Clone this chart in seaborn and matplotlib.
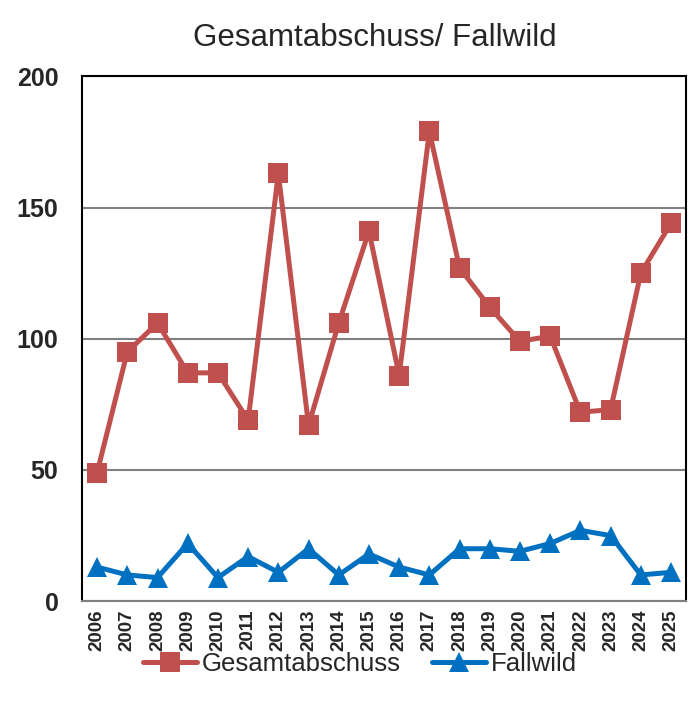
import matplotlib
matplotlib.use("Agg")
import matplotlib.pyplot as plt
import seaborn as sns
import pandas as pd

# data
years = [str(y) for y in range(2006, 2026)]
gesamtabschuss = [49, 95, 106, 87, 87, 69, 163, 67, 106, 141, 86, 179, 127, 112, 99, 101, 72, 73, 125, 144]
fallwild = [13, 10, 9, 22, 9, 17, 11, 20, 10, 18, 13, 10, 20, 20, 19, 22, 27, 25, 10, 11]

sns.set_style("white")
plt.rcParams['font.family'] = ['Liberation Sans', 'DejaVu Sans']

df = pd.DataFrame({
    "Jahr": years * 2,
    "Wert": gesamtabschuss + fallwild,
    "Reihe": ["Gesamtabschuss"] * len(years) + ["Fallwild"] * len(years),
})

fig = plt.figure(figsize=(6.92, 7.2), dpi=100)
ax = fig.add_axes([0.1185, 0.165, 0.873, 0.729])

sns.lineplot(data=df, x="Jahr", y="Wert", hue="Reihe", style="Reihe",
             palette={"Gesamtabschuss": "#C0504D", "Fallwild": "#0070C0"},
             markers={"Gesamtabschuss": "s", "Fallwild": "^"},
             dashes=False, linewidth=3.6, markersize=14, markeredgewidth=0,
             sort=False, ax=ax)

ax.set_xlim(-0.5, len(years) - 0.5)
ax.set_ylim(0, 200)
ax.set_yticks([0, 50, 100, 150, 200])
ax.yaxis.grid(True, color="#808080", linewidth=1.5)
ax.set_axisbelow(True)
ax.set_xlabel("")
ax.set_ylabel("")
ax.tick_params(axis="y", labelsize=18, length=0, pad=17)
ax.tick_params(axis="x", labelsize=13.5, length=0, pad=6, rotation=90)
for lbl in ax.get_yticklabels() + ax.get_xticklabels():
    lbl.set_fontweight("bold")

for side in ["left", "top", "right"]:
    ax.spines[side].set_color("black")
    ax.spines[side].set_linewidth(1.5)
ax.spines["bottom"].set_color("#808080")
ax.spines["bottom"].set_linewidth(1.5)

ax.set_title("Gesamtabschuss/ Fallwild", fontsize=22.5, pad=22, x=0.485)

leg = ax.legend(loc="center", bbox_to_anchor=(0.46, -0.12), ncol=2,
                frameon=False, fontsize=18.5, handlelength=2.1, columnspacing=1.2,
                handletextpad=0.2)

fig.savefig("out.png", dpi=100)
